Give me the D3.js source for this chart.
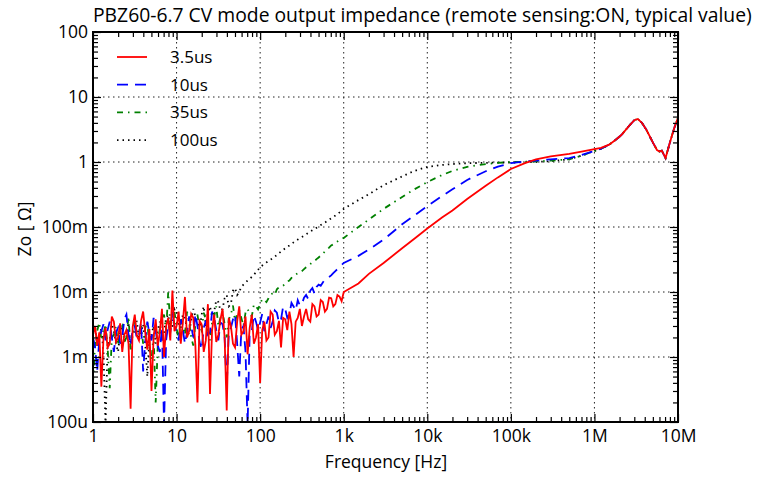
<!DOCTYPE html>
<html>
<head>
<meta charset="utf-8">
<script src="https://cdn.jsdelivr.net/npm/d3@7"></script>
<style>
  body { margin: 0; background: #fff; }
  text { font-family: "Open Sans", "Noto Sans", sans-serif; fill: #000; }
</style>
</head>
<body>
<div id="chart"></div>
<script>
// frequency grid of the noisy low part: 40 points per decade, 1 Hz .. 1 kHz
var lowMantissa = [1, 1.059, 1.122, 1.189, 1.259, 1.334, 1.413, 1.496, 1.585, 1.679, 1.778, 1.884, 1.995, 2.113,
  2.239, 2.371, 2.512, 2.661, 2.818, 2.985, 3.162, 3.350, 3.548, 3.758, 3.981, 4.217, 4.467, 4.732, 5.012, 5.309,
  5.623, 5.957, 6.310, 6.683, 7.079, 7.499, 7.943, 8.414, 8.913, 9.441];
var lowDecades = [1, 10, 100];

// low part values, in mOhm
var red35Low = [2.2, 3.0, 1.5, 2.4, 0.35, 1.9, 2.8, 1.4, 1.6, 4.2, 3.5, 1.7, 2.0, 3.3, 1.2, 2.2, 2.6, 1.6, 0.16, 2.9,
  4.5, 2.1, 1.8, 3.6, 5.0, 2.4, 1.3, 2.7, 0.3, 2.0, 3.8, 1.5, 2.4, 5.5, 1.0, 3.0, 4.0, 1.8, 10.5, 2.5,
  3.0, 5.0, 1.6, 3.4, 8.4, 2.0, 2.5, 4.6, 4.0, 1.5, 0.2, 3.6, 3.2, 1.2, 1.8, 6.5, 0.27, 2.6, 4.5, 1.7,
  2.2, 3.8, 5.5, 2.0, 0.15, 4.0, 3.0, 1.6, 1.4, 3.5, 6.0, 2.2, 2.5, 4.2, 1.1, 2.8, 4.5, 1.6, 2.0, 3.2,
  0.4, 2.6, 3.5, 1.8, 2.0, 5.0, 4.5, 2.2, 2.5, 3.6, 1.4, 4.0, 3.8, 2.6, 5.0, 3.2, 1.0, 3.5, 4.0, 5.5,
  3.0, 4.2, 5.5, 3.8, 3.5, 6.5, 6.0, 4.2, 4.5, 7.5, 7.0, 5.0, 5.5, 8.2, 8.0, 6.0, 6.5, 9.0, 8.5, 7.2, 10.0];
var blue10Low = [2.0, 1.4, 0.6, 1.9, 2.5, 3.2, 1.8, 2.6, 3.5, 2.0, 1.2, 2.4, 2.8, 1.6, 2.0, 3.8, 4.5, 2.2, 1.5, 2.7,
  3.0, 1.9, 2.2, 3.4, 0.6, 1.7, 3.5, 2.3, 1.8, 4.0, 2.6, 1.5, 1.2, 2.9, 0.09, 1.8, 3.2, 2.4, 5.0, 3.0,
  2.5, 1.8, 3.8, 2.6, 1.6, 2.4, 4.2, 3.0, 2.0, 4.6, 3.0, 1.7, 1.3, 2.8, 3.6, 2.2, 2.4, 5.0, 4.0, 2.6,
  1.8, 3.4, 3.2, 2.0, 0.35, 2.4, 2.8, 3.8, 4.5, 1.6, 0.5, 2.6, 3.0, 1.2, 0.09, 2.4, 2.5, 4.4, 3.5, 2.6,
  3.4, 4.6, 2.5, 3.2, 4.2, 2.8, 3.5, 5.2, 4.8, 3.4, 3.8, 6.0, 5.5, 4.0, 4.5, 6.8, 6.0, 5.2, 7.5, 6.2,
  6.5, 8.2, 9.0, 7.8, 10.5, 11.5, 9.5, 12, 13, 12.5, 14, 15.5, 16, 17, 18, 19.5, 21, 22.5, 24, 26, 28];
var green35Low = [0.4, 1.6, 2.5, 3.4, 1.8, 2.2, 3.2, 1.4, 0.33, 2.0, 2.2, 3.0, 1.5, 2.6, 3.0, 1.7, 2.0, 4.2, 1.2, 2.4,
  4.0, 2.0, 2.5, 3.0, 1.6, 2.8, 3.5, 1.4, 0.9, 2.2, 0.2, 1.5, 2.8, 3.6, 4.5, 2.5, 10.0, 3.2, 3.5, 5.0,
  2.8, 1.8, 4.0, 3.0, 2.2, 5.0, 3.5, 2.0, 1.5, 3.2, 4.5, 2.8, 2.5, 4.8, 3.8, 2.6, 1.8, 3.4, 4.2, 6.0,
  3.0, 4.0, 5.0, 3.2, 2.0, 3.8, 4.5, 6.2, 3.5, 4.6, 5.2, 4.0, 3.0, 4.8, 5.5, 4.6, 4.2, 6.4, 6.0, 5.4,
  6.5, 7.8, 7.5, 7.0, 8.0, 9.2, 9.5, 9.0, 11, 11.8, 12, 12.5, 13.5, 14.5, 15, 16.5, 17.5, 18.5, 19.5, 20,
  21, 22.5, 24, 25.5, 27, 28.5, 30, 32, 34, 36.5, 39, 42, 45, 48, 52, 54, 57, 60, 63, 65, 68];
var black100Low = [2.2, 3.0, 1.5, 2.0, 2.8, 1.2, 0.09, 1.6, 1.8, 3.2, 2.5, 1.6, 1.2, 2.4, 3.0, 1.8, 2.0, 3.4, 1.4, 2.2,
  2.6, 3.6, 1.8, 2.4, 3.2, 1.6, 0.5, 2.0, 2.2, 3.0, 1.6, 2.6, 3.5, 1.8, 2.4, 4.0, 4.5, 2.6, 3.0, 5.5,
  5.0, 3.2, 2.8, 4.5, 4.0, 2.6, 2.2, 3.8, 5.5, 4.2, 3.5, 2.6, 4.5, 6.0, 3.0, 4.8, 6.0, 4.2, 5.0, 7.5,
  7.0, 5.2, 5.5, 8.0, 9.0, 6.0, 6.5, 10.5, 11.5, 9.0, 10, 12, 13, 14, 15, 16, 17, 18.5, 20, 22,
  24, 25.5, 27, 28.5, 30, 31.5, 33, 35, 37, 39.5, 42, 44.5, 47, 49.5, 52, 55, 58, 61, 64, 67,
  70, 73.5, 77, 81, 85, 89, 93, 97.5, 102, 107, 112, 117, 123, 129, 136, 143, 150, 159, 168, 179, 190];

// smooth high part (Hz) and values in Ohm
var highFreq = [1.5e3, 2e3, 3e3, 5e3, 7e3, 1e4, 1.5e4, 2e4, 3e4, 5e4, 7e4, 1e5, 1.5e5, 2e5, 3e5, 5e5, 7e5, 1e6,
  1.2e6, 1.5e6, 1.8e6, 2.1e6, 2.6e6, 3.0e6, 3.3e6, 3.7e6, 4.2e6, 5e6, 5.6e6, 6.0e6, 6.4e6, 7.1e6, 8e6, 9e6, 1e7];
var red35High = [0.0135, 0.019, 0.028, 0.047, 0.066, 0.095, 0.14, 0.18, 0.27, 0.43, 0.58, 0.78, 0.97, 1.1, 1.22, 1.33, 1.45, 1.58,
  1.65, 1.85, 2.2, 2.6, 3.6, 4.4, 4.6, 4.0, 3.1, 2.0, 1.53, 1.45, 1.5, 1.15, 2.0, 3.3, 4.8];
var blue10High = [0.036, 0.045, 0.064, 0.11, 0.15, 0.21, 0.30, 0.38, 0.53, 0.72, 0.85, 0.96, 1.02, 1.05, 1.1, 1.15, 1.28, 1.48,
  1.6, 1.85, 2.2, 2.6, 3.6, 4.4, 4.6, 4.0, 3.1, 2.0, 1.53, 1.45, 1.5, 1.15, 2.0, 3.3, 4.8];
var green35High = [0.1, 0.13, 0.19, 0.29, 0.38, 0.49, 0.63, 0.73, 0.84, 0.93, 0.97, 1.0, 1.01, 1.02, 1.05, 1.1, 1.25, 1.48,
  1.6, 1.85, 2.2, 2.6, 3.6, 4.4, 4.6, 4.0, 3.1, 2.0, 1.53, 1.45, 1.5, 1.15, 2.0, 3.3, 4.8];
var black100High = [0.26, 0.32, 0.44, 0.6, 0.73, 0.84, 0.9, 0.93, 0.96, 0.97, 0.98, 0.98, 0.99, 1.0, 1.03, 1.1, 1.25, 1.48,
  1.6, 1.85, 2.2, 2.6, 3.6, 4.4, 4.6, 4.0, 3.1, 2.0, 1.53, 1.45, 1.5, 1.15, 2.0, 3.3, 4.8];

var seriesNames = ["3.5us", "10us", "35us", "100us"];
var xTicks = [1, 10, 100, 1e3, 1e4, 1e5, 1e6, 1e7];
var xTickLabels = ["1", "10", "100", "1k", "10k", "100k", "1M", "10M"];
var yTicks = [1e-4, 1e-3, 1e-2, 1e-1, 1, 10, 100];
var yTickLabels = ["100u", "1m", "10m", "100m", "1", "10", "100"];

var lowFreq = [];
lowDecades.forEach(function(d) { lowMantissa.forEach(function(m) { lowFreq.push(d * m); }); });
lowFreq.push(1000);

function build(low, high) {
  var pts = lowFreq.map(function(f, i) { return [f, low[i] / 1000]; });
  return pts.concat(highFreq.map(function(f, i) { return [f, high[i]]; }));
}
var series = [
  { name: seriesNames[0], pts: build(red35Low, red35High), color: "#ff0000", dash: null },
  { name: seriesNames[1], pts: build(blue10Low, blue10High), color: "#0000ff", dash: "11,7" },
  { name: seriesNames[2], pts: build(green35Low, green35High), color: "#008000", dash: "6,5,1.5,5" },
  { name: seriesNames[3], pts: build(black100Low, black100High), color: "#000000", dash: "1.5,4" }
];

var W = 760, H = 477;
var L = 93, R = 678, T = 32, B = 422;
var fs = 17.5;

var svg = d3.select("#chart").append("svg").attr("width", W).attr("height", H);

var x = d3.scaleLog().domain([1, 1e7]).range([L, R]);
var y = d3.scaleLog().domain([1e-4, 100]).range([B, T]);

// minor tick values
var xMinor = [], yMinor = [];
xTicks.slice(0, -1).forEach(function(d) { for (var k = 2; k < 10; k++) xMinor.push(d * k); });
yTicks.slice(0, -1).forEach(function(d) { for (var k = 2; k < 10; k++) yMinor.push(d * k); });

// grid
var grid = svg.append("g").attr("class", "grid");
grid.selectAll(".gx").data(xTicks.slice(1, -1)).enter().append("line")
  .attr("x1", function(d) { return x(d); }).attr("x2", function(d) { return x(d); })
  .attr("y1", T).attr("y2", B)
  .attr("style", "stroke:#222;stroke-width:1;stroke-dasharray:1.5,3.5");
grid.selectAll(".gy").data(yTicks.slice(1, -1)).enter().append("line")
  .attr("x1", L).attr("x2", R)
  .attr("y1", function(d) { return y(d); }).attr("y2", function(d) { return y(d); })
  .attr("style", "stroke:#222;stroke-width:1;stroke-dasharray:1.5,3.5");

// curves
svg.append("clipPath").attr("id", "clip").append("rect")
  .attr("x", L).attr("y", T).attr("width", R - L).attr("height", B - T);
var line = d3.line().x(function(d) { return x(d[0]); }).y(function(d) { return y(Math.max(d[1], 5e-5)); });
var plot = svg.append("g").attr("clip-path", "url(#clip)");
series.slice().reverse().forEach(function(s) {
  plot.append("path")
    .attr("d", line(s.pts))
    .attr("fill", "none")
    .attr("stroke", s.color)
    .attr("stroke-width", 1.8)
    .attr("stroke-dasharray", s.dash);
});

// axes with inward ticks
function styleAxis(g) {
  g.select(".domain").remove();
  g.selectAll(".tick line").attr("stroke", "#000").attr("stroke-width", 1.2);
  g.selectAll("text").attr("style", "font-size:" + fs + "px;font-family:'Open Sans',sans-serif");
}
svg.append("g").attr("transform", "translate(0," + B + ")")
  .call(d3.axisBottom(x).tickValues(xTicks).tickSize(-8).tickPadding(8)
    .tickFormat(function(d, i) { return xTickLabels[i]; }))
  .call(styleAxis);
svg.append("g").attr("transform", "translate(0," + B + ")")
  .call(d3.axisBottom(x).tickValues(xMinor).tickSize(-5).tickFormat(""))
  .call(styleAxis);
svg.append("g").attr("transform", "translate(0," + T + ")")
  .call(d3.axisTop(x).tickValues(xTicks).tickSize(-8).tickFormat(""))
  .call(styleAxis);
svg.append("g").attr("transform", "translate(0," + T + ")")
  .call(d3.axisTop(x).tickValues(xMinor).tickSize(-5).tickFormat(""))
  .call(styleAxis);
svg.append("g").attr("transform", "translate(" + L + ",0)")
  .call(d3.axisLeft(y).tickValues(yTicks).tickSize(-8).tickPadding(5)
    .tickFormat(function(d, i) { return yTickLabels[i]; }))
  .call(styleAxis);
svg.append("g").attr("transform", "translate(" + L + ",0)")
  .call(d3.axisLeft(y).tickValues(yMinor).tickSize(-5).tickFormat(""))
  .call(styleAxis);
svg.append("g").attr("transform", "translate(" + R + ",0)")
  .call(d3.axisRight(y).tickValues(yTicks).tickSize(-8).tickFormat(""))
  .call(styleAxis);
svg.append("g").attr("transform", "translate(" + R + ",0)")
  .call(d3.axisRight(y).tickValues(yMinor).tickSize(-5).tickFormat(""))
  .call(styleAxis);

// frame
svg.append("rect")
  .attr("x", L).attr("y", T).attr("width", R - L).attr("height", B - T)
  .attr("fill", "none").attr("stroke", "#000").attr("stroke-width", 2);

// legend
var legend = svg.append("g");
series.forEach(function(s, i) {
  var ly = 57 + i * 27.7;
  legend.append("line")
    .attr("x1", 117).attr("x2", 147).attr("y1", ly).attr("y2", ly)
    .attr("stroke", s.color).attr("stroke-width", 1.8)
    .attr("stroke-dasharray", s.dash);
  legend.append("text")
    .attr("x", 170).attr("y", ly + 6)
    .attr("style", "font-size:17px")
    .text(s.name);
});

// titles
var title = svg.append("text")
  .attr("x", L).attr("y", 22)
  .attr("style", "font-size:16px")
  .text("PBZ60-6.7 CV mode output impedance (remote sensing:ON, typical value)");
var tw = title.node().getComputedTextLength();
title.attr("style", "font-size:" + (16 * 659 / tw) + "px");

svg.append("text")
  .attr("x", 386).attr("y", 468)
  .attr("text-anchor", "middle")
  .attr("style", "font-size:" + fs + "px")
  .text("Frequency [Hz]");

svg.append("text")
  .attr("transform", "translate(31,229) rotate(-90)")
  .attr("text-anchor", "middle")
  .attr("style", "font-size:" + fs + "px")
  .text("Zo [ Ω]");
</script>
</body>
</html>
